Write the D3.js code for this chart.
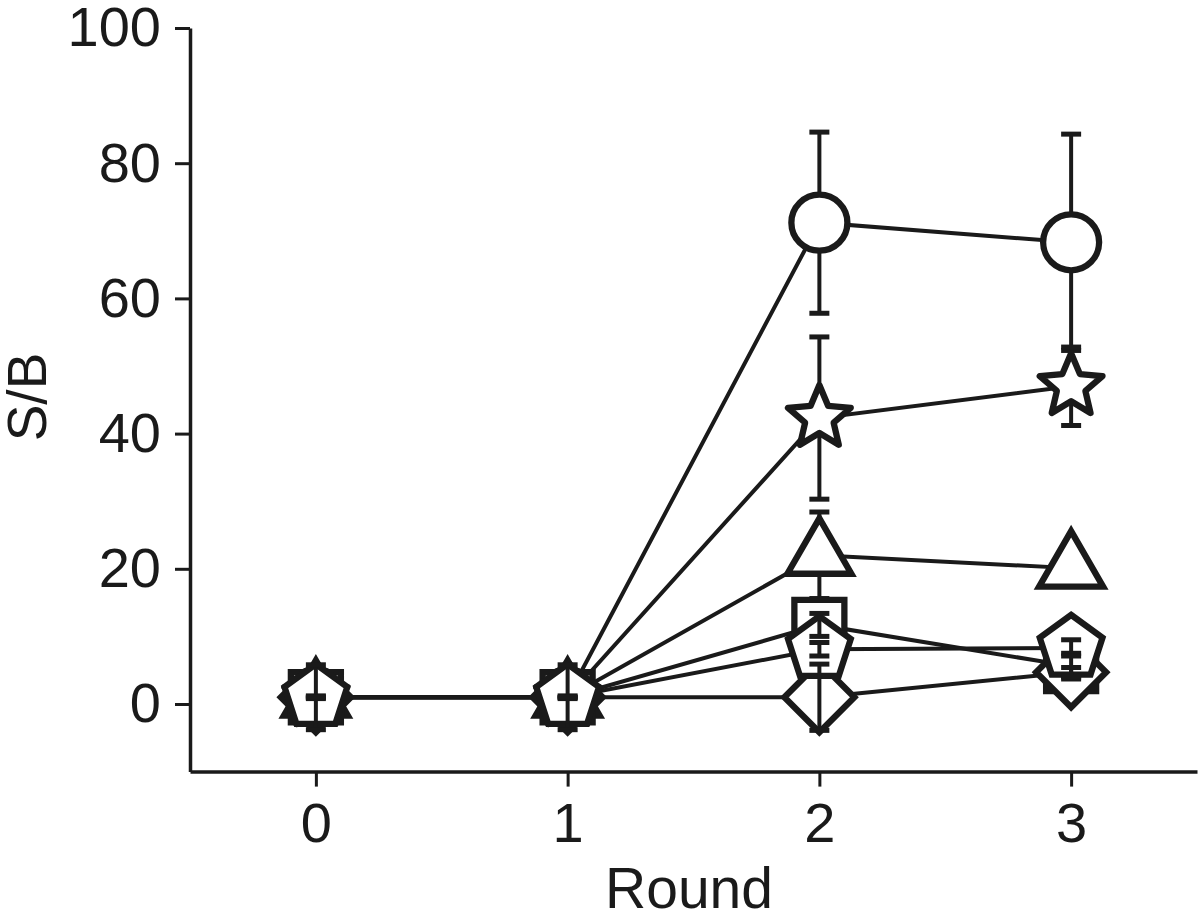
<!DOCTYPE html>
<html>
<head>
<meta charset="utf-8">
<script src="https://cdn.jsdelivr.net/npm/d3@7"></script>
<style>
  html, body { margin: 0; padding: 0; background: #ffffff; }
  svg { display: block; }
  text { font-family: "Liberation Sans", Arial, Helvetica, sans-serif; fill: #1a1a1a; }
</style>
</head>
<body>
<svg id="chart" width="1200" height="914"></svg>
<script>
// ---------- data ----------
const rounds = [0, 1, 2, 3];
const xTickLabels = ["0", "1", "2", "3"];
const yTickValues = [0, 20, 40, 60, 80, 100];
const xAxisTitle = "Round";
const yAxisTitle = "S/B";

const seriesNames = ["circle", "star", "triangle", "square", "diamond", "pentagon"];
const circleValues   = [1.0, 1.0, 71.2, 68.3];
const circleErrors   = [0.3, 0.3, 13.4, 16.0];
const starValues     = [1.0, 1.0, 42.3, 47.0];
const starErrors     = [0.3, 0.3, 12.0, 5.8];
const triangleValues = [1.0, 1.0, 22.0, 20.1];
const triangleErrors = [0.3, 0.3, 6.4, 2.5];
const squareValues   = [1.0, 1.0, 11.7, 5.6];
const squareErrors   = [0.2, 0.2, 1.7, 1.9];
const diamondValues  = [1.0, 1.0, 1.0, 4.7];
const diamondErrors  = [4.8, 4.8, 4.9, 0.7];
const pentagonValues = [1.0, 1.0, 8.1, 8.3];
const pentagonErrors = [0.0, 0.0, 1.0, 1.2];

const valuesBySeries = [circleValues, starValues, triangleValues, squareValues, diamondValues, pentagonValues];
const errorsBySeries = [circleErrors, starErrors, triangleErrors, squareErrors, diamondErrors, pentagonErrors];

// ---------- styling ----------
const ink = "#1a1a1a";
const errorsBelowMarkers = { circle: true, star: true, triangle: true };
const markerStroke = 6.3;

function polygon(points) {
  return "M" + points.map(p => p[0].toFixed(2) + "," + p[1].toFixed(2)).join("L") + "Z";
}
function regular(n, r, rot) {
  const pts = [];
  for (let i = 0; i < n; i++) {
    const a = rot + i * 2 * Math.PI / n;
    pts.push([r * Math.cos(a), r * Math.sin(a)]);
  }
  return pts;
}
function shapePath(shape) {
  switch (shape) {
    case "circle": {
      const r = 28;
      return `M${r},0A${r},${r} 0 1,1 ${-r},0A${r},${r} 0 1,1 ${r},0Z`;
    }
    case "star": {
      const R = 33, ri = 15;
      const pts = [];
      for (let i = 0; i < 10; i++) {
        const a = -Math.PI / 2 + i * Math.PI / 5;
        const r = i % 2 === 0 ? R : ri;
        pts.push([r * Math.cos(a), r * Math.sin(a)]);
      }
      return polygon(pts);
    }
    case "triangle": {
      const s = 64, h = s * Math.sqrt(3) / 2;
      return polygon([[0, -2 * h / 3], [s / 2, h / 3], [-s / 2, h / 3]]);
    }
    case "square": {
      const a = 25;
      return polygon([[-a, -a], [a, -a], [a, a], [-a, a]]);
    }
    case "diamond": {
      const a = 35;
      return polygon([[0, -a], [a, 0], [0, a], [-a, 0]]);
    }
    case "pentagon":
      return polygon(regular(5, 33, -Math.PI / 2));
  }
}

// ---------- scales ----------
const svg = d3.select("#chart");
const x = d3.scaleLinear().domain([-0.5, 3.5]).range([190, 1197]);
const y = d3.scaleLinear().domain([-10, 100]).range([771.6, 28]);

// ---------- axes ----------
const yAxis = d3.axisLeft(y).tickValues(yTickValues).tickSize(15).tickSizeOuter(0).tickPadding(14);
const xAxis = d3.axisBottom(x).tickValues(rounds).tickFormat((d, i) => xTickLabels[i])
  .tickSize(15).tickSizeOuter(0).tickPadding(16);

const gy = svg.append("g").attr("transform", "translate(190,0)").call(yAxis);
const gx = svg.append("g").attr("transform", "translate(0,771.6)").call(xAxis);
[gx, gy].forEach(g => {
  g.select(".domain").attr("stroke", ink).attr("stroke-width", 3.5);
  g.selectAll(".tick line").attr("stroke", ink).attr("stroke-width", 3);
  g.selectAll(".tick text").attr("font-size", 56).attr("fill", ink)
    .attr("font-family", "'Liberation Sans', Arial, sans-serif");
});

svg.append("text").attr("x", 689).attr("y", 908).attr("text-anchor", "middle")
  .attr("font-size", 57).text(xAxisTitle);
svg.append("text").attr("transform", "translate(46,397) rotate(-90)").attr("text-anchor", "middle")
  .attr("font-size", 55).text(yAxisTitle);

// ---------- marks ----------
const series = seriesNames.map((name, i) => ({
  name,
  points: rounds.map((r, j) => ({ r, v: valuesBySeries[i][j], e: errorsBySeries[i][j] }))
}));

const line = d3.line().x(d => x(d.r)).y(d => y(d.v));
const gLines = svg.append("g");
const gErrBelow = svg.append("g");
const gMarkers = svg.append("g");
const gErrAbove = svg.append("g");

gLines.selectAll("path").data(series).join("path")
  .attr("d", d => line(d.points))
  .attr("fill", "none").attr("stroke", ink).attr("stroke-width", 4);

function drawErrors(g, s) {
  const grp = g.append("g");
  s.points.forEach(p => {
    const cx = x(p.r), y1 = y(p.v + p.e), y2 = y(p.v - p.e);
    grp.append("line").attr("x1", cx).attr("x2", cx).attr("y1", y1).attr("y2", y2)
      .attr("stroke", ink).attr("stroke-width", 4);
    [y1, y2].forEach(yy => grp.append("line")
      .attr("x1", cx - 10).attr("x2", cx + 10).attr("y1", yy).attr("y2", yy)
      .attr("stroke", ink).attr("stroke-width", 5));
  });
}

series.forEach(s => {
  drawErrors(errorsBelowMarkers[s.name] ? gErrBelow : gErrAbove, s);
  gMarkers.append("g").selectAll("path").data(s.points).join("path")
    .attr("d", shapePath(s.name))
    .attr("transform", d => `translate(${x(d.r)},${y(d.v)})`)
    .attr("fill", "#ffffff").attr("stroke", ink)
    .attr("stroke-width", markerStroke)
    .attr("stroke-linejoin", s.name === "star" ? "round" : "miter");
});
</script>
</body>
</html>
